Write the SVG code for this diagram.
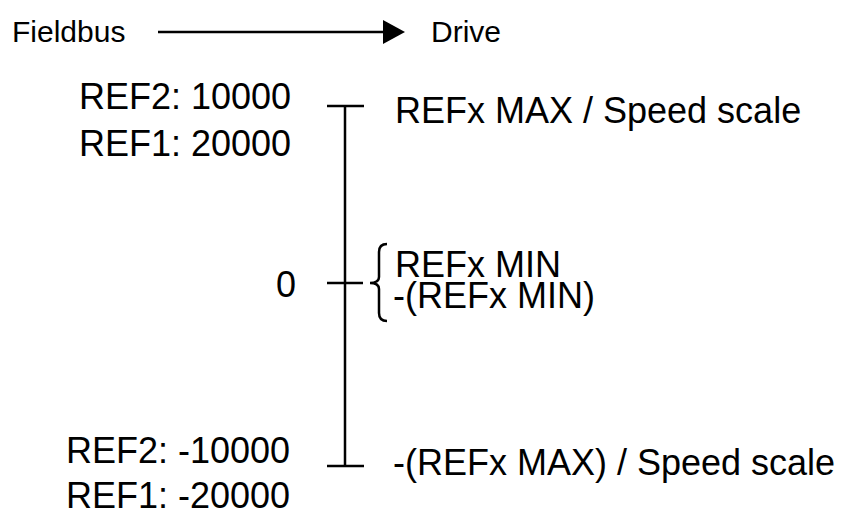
<svg xmlns="http://www.w3.org/2000/svg" width="854" height="516" viewBox="0 0 854 516">
<style>
text{font-family:"Liberation Sans",Arial,sans-serif;font-size:36px;fill:#000}
text.hd{font-size:30px}
.ln{stroke:#000;stroke-width:2.5;fill:none}
</style>
<rect width="854" height="516" fill="#fff"/>
<g id="fieldbus"><text class="hd" x="12" y="42">Fieldbus</text></g>
<g id="drive"><text class="hd" x="431" y="42">Drive</text></g>
<g id="connectors">
<line class="ln" x1="158" y1="32" x2="385" y2="32"/>
<path d="M383,20 L405,32 L383,44 z" fill="#000"/>
<line class="ln" x1="345" y1="105" x2="345" y2="467"/>
<line class="ln" x1="327" y1="106" x2="364" y2="106"/>
<line class="ln" x1="327" y1="283" x2="363" y2="283"/>
<line class="ln" x1="327" y1="466" x2="364" y2="466"/>
<path class="ln" d="M387,244 Q379,244 379,252 L379,277 Q379,283 370,283 Q379,283 379,289 L379,313 Q379,321 387,321"/>
</g>
<g id="top-left"><text x="79" y="109">REF2: 10000</text><text x="79" y="156">REF1: 20000</text></g>
<g id="top-right"><text x="395" y="123">REFx MAX / Speed scale</text></g>
<g id="zero"><text x="276" y="297">0</text></g>
<g id="mid-right"><text x="395" y="277">REFx MIN</text><text x="393" y="308">-(REFx MIN)</text></g>
<g id="bottom-left"><text x="66" y="463">REF2: -10000</text><text x="66" y="508">REF1: -20000</text></g>
<g id="bottom-right"><text x="393" y="475">-(REFx MAX) / Speed scale</text></g>
</svg>
